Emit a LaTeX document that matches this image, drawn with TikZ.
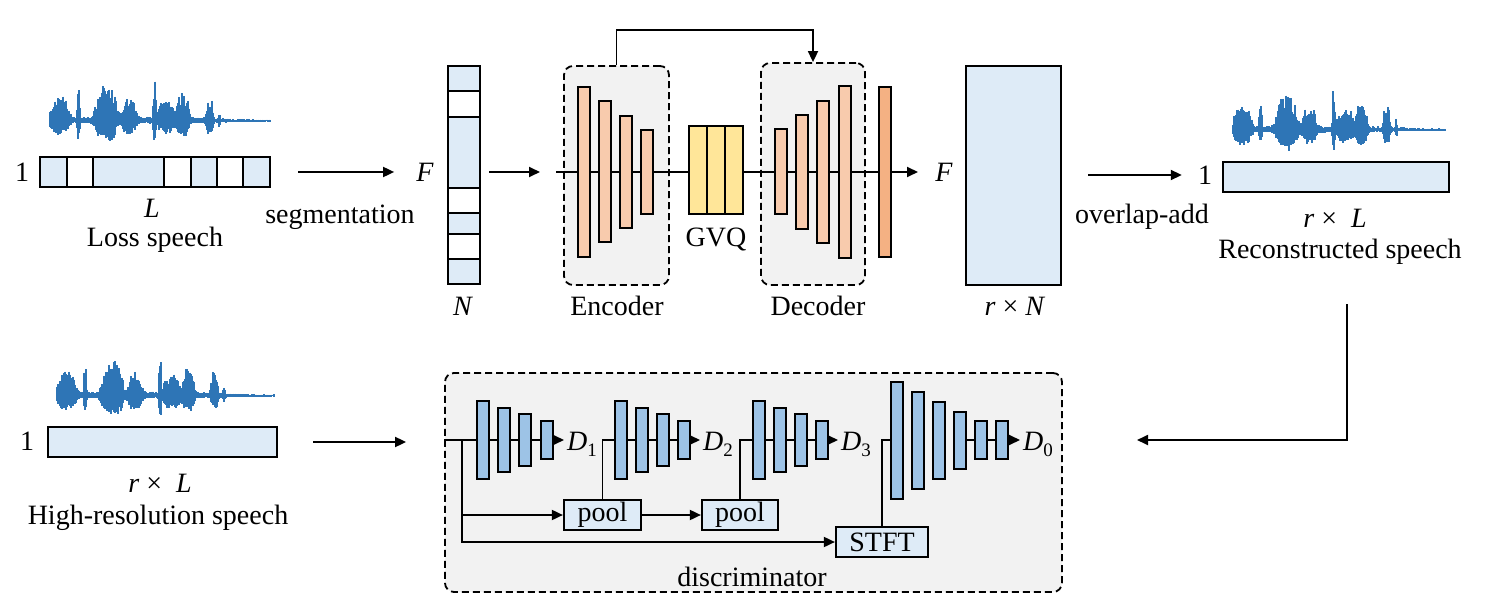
\documentclass[tikz,border=0pt]{standalone}
\usepackage{fontspec}
\setmainfont{Liberation Serif}
\usetikzlibrary{arrows.meta, calc}

\definecolor{cellblue}{HTML}{DEEBF7}
\definecolor{encorange}{HTML}{F8CBAD}
\definecolor{outorange}{HTML}{F4B183}
\definecolor{vqyellow}{HTML}{FFE699}
\definecolor{discblue}{HTML}{9DC3E6}
\definecolor{boxgray}{HTML}{F2F2F2}
\definecolor{waveblue}{HTML}{2E75B6}

\tikzset{
  declare function={burst(\p,\c,\w,\a)=\a*exp(0-min(abs((\p-\c)/\w),4)^4);},
  lbl/.style={font=\fontsize{28}{31}\selectfont, inner sep=0},
  cell/.style={line width=2.4pt},
  bar/.style={draw, line width=2pt, inner sep=0, minimum width=12pt},
  encbar/.style={bar, fill=encorange},
  discbar/.style={bar, fill=discblue},
  dashbox/.style={draw, dash pattern=on 7pt off 4pt, line width=1.8pt, fill=boxgray, rounded corners=9pt, inner sep=0},
  opbox/.style={draw, line width=2.2pt, fill=cellblue, inner sep=0, minimum height=30pt, font=\fontsize{28}{31}\selectfont},
  ln/.style={line width=1.8pt},
  arr/.style={ln, -{Triangle[length=11pt, width=10pt]}},
  wave/.style={waveblue, line width=1.3pt},
}

\newcommand{\vi}[1]{\textit{#1}}
\newcommand{\dsub}[1]{\textit{D}\raisebox{-6pt}{\fontsize{19}{20}\selectfont #1}}

% speech waveform: x0, baseline, width, seed
\newcommand{\speechwave}[4]{%
  \pgfmathsetseed{#4}
  \foreach \i in {0,...,#3} {
    \pgfmathsetmacro{\wt}{\i/#3}
    \pgfmathsetmacro{\wenv}{1.5+burst(\wt,0.4,0.4,3)+burst(\wt,0.045,0.045,22)+burst(\wt,0.13,0.007,30)+burst(\wt,0.255,0.05,31)+burst(\wt,0.36,0.032,20)+burst(\wt,0.475,0.007,36)+burst(\wt,0.53,0.04,18)+burst(\wt,0.605,0.028,24)+burst(\wt,0.725,0.017,21)+burst(\wt,0.77,0.005,9)}
    \pgfmathsetmacro{\wup}{\wenv*(0.5+0.5*rnd)}
    \pgfmathsetmacro{\wdn}{0.6*\wenv*(0.5+0.5*rnd)}
    \draw[wave] (#1+\i,#2-\wup) -- (#1+\i,#2+\wdn);
  }}

\begin{document}
\begin{tikzpicture}[x=1pt, y=-1pt]
  \useasboundingbox (0,0) rectangle (1487,612);

  % input speech
  \speechwave{50}{121}{220}{11}
  \foreach \a/\b/\c in {40/67/cellblue, 67/93/white, 93/164/cellblue, 164/191/white, 191/217/cellblue, 217/243/white, 243/270/cellblue}
    \draw[cell, fill=\c] (\a,157) rectangle (\b,187);
  \node[inner sep=0, minimum width=230pt, minimum height=30pt] (loss) at (155,172) {};
  \node[lbl] (one1) at (22,172) {1};
  \node[lbl] (lenL) at (152,208) {\vi{L}};
  \node[lbl] (lossname) at (155,240) {Loss speech};

  \node[lbl] (fin) at (425,172) {\vi{F}};
  \draw[arr] ([xshift=28pt]loss.east) -- ([xshift=-22pt]fin.west);
  \node[lbl] (segname) at (340,217) {segmentation};

  % segmented frames
  \foreach \a/\b/\c in {66/91/cellblue, 91/117/white, 117/188/cellblue, 188/213/white, 213/234/cellblue, 234/259/white, 259/284/cellblue}
    \draw[cell, fill=\c] (448,\a) rectangle (480,\b);
  \node[inner sep=0, minimum width=32pt, minimum height=218pt] (seg) at (464,175) {};
  \node[lbl] (nN) at (463,306) {\vi{N}};

  % encoder / GVQ / decoder
  \node[dashbox, minimum width=105pt, minimum height=219pt] (enc) at (616.5,175.5) {};
  \node[dashbox, minimum width=104pt, minimum height=222pt] (dec) at (813,174) {};
  \foreach \n/\x/\h in {1/584/170, 2/605/141, 3/626/112, 4/647/84}
    \node[encbar, minimum height=\h pt] (e\n) at (\x,172) {};
  \foreach \n/\x/\h in {1/781/85, 2/802/114, 3/823/142, 4/844.5/171}
    \node[encbar, minimum height=\h pt] (d\n) at (\x,172) {};
  \node[bar, fill=outorange, minimum height=170pt] (ob) at (885,172) {};
  \node[draw, line width=2pt, fill=vqyellow, inner sep=0, minimum width=54pt, minimum height=88pt] (gvq) at (716,170) {};
  \draw[line width=2pt] (707,126) -- (707,214) (725,126) -- (725,214);
  \node[lbl] (gvqname) at (716,240) {GVQ};
  \node[lbl] (encname) at (617,306) {Encoder};
  \node[lbl] (decname) at (818,306) {Decoder};

  \coordinate (encin) at (556,172);
  \coordinate (segtip) at (540,172);
  \coordinate (encout) at (918,172);
  \draw[arr] ([xshift=9pt]seg.east |- encin) -- (segtip);
  \draw[ln] (encin) -- (e1.west) (e1.east) -- (e2.west) (e2.east) -- (e3.west) (e3.east) -- (e4.west) (e4.east) -- (gvq.west |- encin);
  \draw[ln] (gvq.east |- encin) -- (d1.west) (d1.east) -- (d2.west) (d2.east) -- (d3.west) (d3.east) -- (d4.west) (d4.east) -- (ob.west);
  \draw[arr] (ob.east) -- (encout);
  \draw[arr] (enc.north) -- ++(0,-35) -| (dec.north);

  % output frames
  \node[lbl] (fout) at (944,172) {\vi{F}};
  \node[draw, cell, fill=cellblue, inner sep=0, minimum width=95pt, minimum height=219pt] (big) at (1013.5,175.5) {};
  \node[lbl] (rN) at (1015,306) {\vi{r} × \vi{N}};

  % reconstructed speech
  \node[lbl] (one3) at (1205,175) {1};
  \draw[arr] ([xshift=26pt]big.east |- one3) -- ([xshift=-16pt]one3.west);
  \node[lbl] (olaname) at (1142,217) {overlap-add};
  \speechwave{1233}{130}{212}{23}
  \node[draw, cell, fill=cellblue, inner sep=0, minimum width=226pt, minimum height=30pt] (recon) at (1336,177) {};
  \node[lbl] (rL1) at (1335,218) {\vi{r} ×\ \ \vi{L}};
  \node[lbl] (reconname) at (1340,252) {Reconstructed speech};

  % high-resolution speech
  \speechwave{57}{396}{217}{37}
  \node[draw, cell, fill=cellblue, inner sep=0, minimum width=229pt, minimum height=30pt] (hires) at (162.5,442) {};
  \node[lbl] (one2) at (27,441) {1};
  \node[lbl] (rL2) at (160,483) {\vi{r} ×\ \ \vi{L}};
  \node[lbl] (hiresname) at (158,518) {High-resolution speech};

  % discriminator
  \node[dashbox, minimum width=617pt, minimum height=219pt] (disc) at (753.5,482.5) {};
  \node[lbl] (discname) at (752,577) {discriminator};
  \draw[arr] ([xshift=35pt]hires.east) -- ([xshift=-38pt]disc.west |- hires.east);
  \coordinate (fbtop) at (1347,304);
  \coordinate (fbend) at (1137,440);
  \draw[arr] (fbtop) |- (fbend);

  \foreach \n/\x/\h in {1/483/78, 2/504/64, 3/525/52, 4/546.5/38}
    \node[discbar, minimum height=\h pt] (g1\n) at (\x,440) {};
  \foreach \n/\x/\h in {1/621/78, 2/642/64, 3/663/52, 4/683.5/38}
    \node[discbar, minimum height=\h pt] (g2\n) at (\x,440) {};
  \foreach \n/\x/\h in {1/759/78, 2/780/64, 3/801/52, 4/822/38}
    \node[discbar, minimum height=\h pt] (g3\n) at (\x,440) {};
  \foreach \n/\x/\h in {1/896.5/117, 2/917.5/97, 3/938.5/77, 4/960/57, 5/981/38, 6/1002/38}
    \node[discbar, minimum height=\h pt] (g4\n) at (\x,440) {};

  \node[lbl, anchor=west, inner sep=3pt] (D1) at (564,444) {\dsub{1}};
  \node[lbl, anchor=west, inner sep=3pt] (D2) at (700,444) {\dsub{2}};
  \node[lbl, anchor=west, inner sep=3pt] (D3) at (838,444) {\dsub{3}};
  \node[lbl, anchor=west, inner sep=3pt] (D0) at (1020,444) {\dsub{0}};

  \node[opbox, minimum width=77pt] (pool1) at (602.5,515) {pool};
  \node[opbox, minimum width=76pt] (pool2) at (740,515) {pool};
  \node[opbox, minimum width=92pt] (stft) at (882,542) {STFT};

  \coordinate (dsplit) at (462,440);
  \draw[ln] (disc.west |- dsplit) -- (g11.west);
  \draw[arr] (dsplit) |- (stft.west);
  \draw[arr] (dsplit |- pool1.west) -- (pool1.west);
  \draw[arr] (pool1.east) -- (pool2.west);
  \draw[ln] (pool1.north) |- (g21.west);
  \draw[ln] (pool2.north) |- (g31.west);
  \draw[ln] (stft.north) |- (g41.west);
  \foreach \g in {1,2,3} {
    \draw[ln] (g\g1.east) -- (g\g2.west) (g\g2.east) -- (g\g3.west) (g\g3.east) -- (g\g4.west);
  }
  \draw[ln] (g44.east) -- (g45.west) (g45.east) -- (g46.west);
  \draw[arr] (g14.east) -- (D1.west |- g14.east);
  \draw[arr] (g24.east) -- (D2.west |- g24.east);
  \draw[arr] (g34.east) -- (D3.west |- g34.east);
  \draw[arr] (g46.east) -- (D0.west |- g46.east);
\end{tikzpicture}
\end{document}
